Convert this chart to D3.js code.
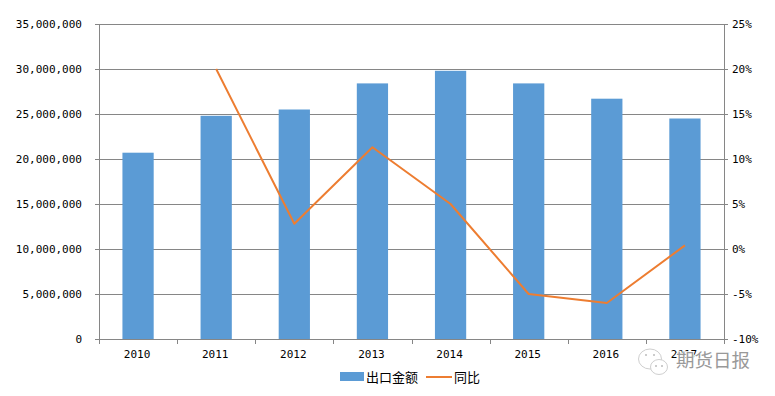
<!DOCTYPE html>
<html>
<head>
<meta charset="utf-8">
<script src="https://cdn.jsdelivr.net/npm/d3@7/dist/d3.min.js"></script>
<style>
html,body{margin:0;padding:0;background:#fff;}
svg{display:block;}
.axis text{font-family:"DejaVu Sans Mono",monospace;font-size:11px;fill:#000;}
.axis path,.axis line{stroke:#868686;stroke-width:1px;shape-rendering:crispEdges;}
.grid line{stroke:#868686;stroke-width:1px;shape-rendering:crispEdges;}
.legendText{font-family:"Noto Sans CJK SC",sans-serif;font-size:13px;fill:#000;}
.mark{font-family:"Noto Sans CJK SC",sans-serif;font-size:18.5px;fill:#999;stroke:#fff;stroke-width:1.5px;paint-order:stroke;}
</style>
</head>
<body>
<div id="chart"></div>
<script>
var years=["2010","2011","2012","2013","2014","2015","2016","2017"];
var exportValues=[20700000,24800000,25500000,28400000,29800000,28400000,26700000,24500000];
var yoyValues=[null,20,2.8,11.3,5,-5,-6,0.4];
var leftTicks=[0,5000000,10000000,15000000,20000000,25000000,30000000,35000000];
var rightTicks=[-10,-5,0,5,10,15,20,25];

var width=775,height=396;
var left=99,right=724,top_=24,bottom=339;

var svg=d3.select("#chart").append("svg").attr("width",width).attr("height",height);

var x=d3.scaleBand().domain(years).range([left,right]).paddingInner(0.6).paddingOuter(0.3);
var xTicks=d3.scaleBand().domain(years).range([left,right]);
var y=d3.scaleLinear().domain([0,35000000]).range([bottom,top_]);
var y2=d3.scaleLinear().domain([-10,25]).range([bottom,top_]);

//gridlines
svg.append("g").attr("class","grid").selectAll("line")
    .data(leftTicks).enter().append("line")
    .attr("x1",left).attr("x2",right)
    .attr("y1",function(d){return y(d)+0.5;}).attr("y2",function(d){return y(d)+0.5;});

//bars
svg.append("g").selectAll("rect")
    .data(exportValues).enter().append("rect")
    .attr("x",function(d,i){return x(years[i]);})
    .attr("width",x.bandwidth())
    .attr("y",function(d){return y(d);})
    .attr("height",function(d){return bottom-y(d);})
    .attr("fill","#5B9BD5");

//axes
var leftAxis=d3.axisLeft(y).tickValues(leftTicks).tickSize(4).tickPadding(13).tickFormat(d3.format(","));
svg.append("g").attr("class","axis").attr("transform","translate("+left+",0)").call(leftAxis);

var rightAxis=d3.axisRight(y2).tickValues(rightTicks).tickSize(4).tickPadding(4).tickFormat(function(d){return d+"%";});
svg.append("g").attr("class","axis").attr("transform","translate("+right+",0)").call(rightAxis);

var bottomAxis=d3.axisBottom(xTicks).tickSize(0).tickPadding(11);
var gx=svg.append("g").attr("class","axis").attr("transform","translate(0,"+bottom+")").call(bottomAxis);
gx.selectAll(".tick text").attr("dx",-1);
gx.selectAll(".boundary").data(d3.range(years.length+1)).enter().append("line").attr("class","boundary")
    .attr("x1",function(i){return Math.round(left+i*xTicks.step())+0.5;})
    .attr("x2",function(i){return Math.round(left+i*xTicks.step())+0.5;})
    .attr("y1",0).attr("y2",5);

//yoy line
var line=d3.line()
    .defined(function(d){return d!==null;})
    .x(function(d,i){return x(years[i])+x.bandwidth()/2;})
    .y(function(d){return y2(d);});
svg.append("path").datum(yoyValues)
    .attr("d",line)
    .attr("fill","none")
    .attr("stroke","#ED7D31")
    .attr("stroke-width",2)
    .attr("stroke-linejoin","round");

//legend
var legend=svg.append("g");
legend.append("rect").attr("x",340).attr("y",372).attr("width",24).attr("height",9).attr("fill","#5B9BD5");
legend.append("text").attr("class","legendText").attr("x",366).attr("y",382).text("出口金额");
legend.append("line").attr("x1",426).attr("x2",452).attr("y1",377).attr("y2",377).attr("stroke","#ED7D31").attr("stroke-width",2);
legend.append("text").attr("class","legendText").attr("x",454).attr("y",382).text("同比");

//watermark, sits over the 2017 label like in the original
var wm=svg.append("g");
wm.append("ellipse").attr("cx",650).attr("cy",359).attr("rx",11.5).attr("ry",10).attr("fill","#fff").attr("stroke","#cfcfcf");
wm.append("ellipse").attr("cx",659).attr("cy",367).attr("rx",8.5).attr("ry",7.5).attr("fill","#fff").attr("stroke","#cfcfcf");
wm.selectAll("circle").data([[646,355],[654,355],[656,366],[662,366]]).enter().append("circle")
    .attr("cx",function(d){return d[0];}).attr("cy",function(d){return d[1];})
    .attr("r",1).attr("fill","#bbb");
wm.append("text").attr("class","mark").attr("x",676).attr("y",367).text("期货日报");
</script>
</body>
</html>
